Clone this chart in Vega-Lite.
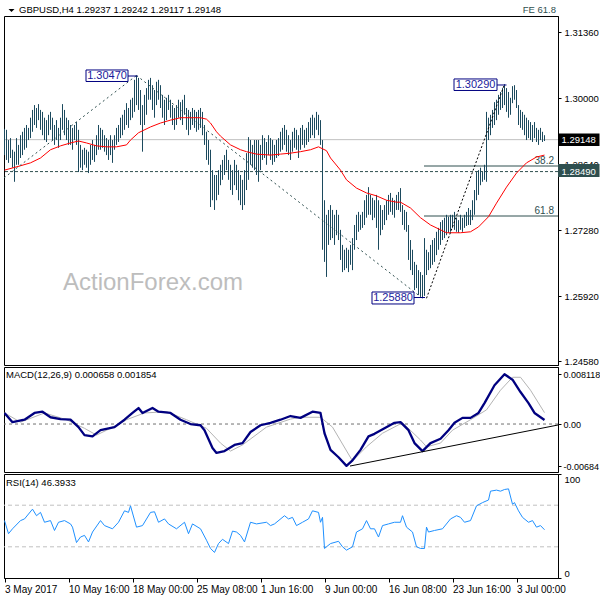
{
"$schema":"https://vega.github.io/schema/vega-lite/v6.json",
"padding":{"left":3,"top":0,"right":0,"bottom":0},
"autosize":{"type":"pad"},
"background":"white",
"spacing":2,
"bounds":"flush",
"data":{"values":[{"k":1}]},
"config":{"font":"Liberation Sans","view":{"stroke":"#000000","strokeWidth":1},
"axis":{"grid":false,"domainColor":"#000000","tickColor":"#000000","labelColor":"#000000","labelFont":"Liberation Sans","labelFontSize":9.5,"tickSize":3,"labelPadding":3}},
"datasets":{
"bars":[{"i":0,"h":1.2937,"l":1.2883},{"i":1,"h":1.2935,"l":1.2873},{"i":2,"h":1.2914,"l":1.2867},{"i":3,"h":1.2918,"l":1.2877},{"i":4,"h":1.2894,"l":1.2857},{"i":5,"h":1.289,"l":1.2828},{"i":6,"h":1.2918,"l":1.2863},{"i":7,"h":1.2904,"l":1.2863},{"i":8,"h":1.2924,"l":1.2877},{"i":9,"h":1.2931,"l":1.2883},
{"i":10,"h":1.2939,"l":1.2894},{"i":11,"h":1.2945,"l":1.2898},{"i":12,"h":1.2939,"l":1.2914},{"i":13,"h":1.296,"l":1.2918},{"i":14,"h":1.2976,"l":1.2931},{"i":15,"h":1.2986,"l":1.2945},{"i":16,"h":1.298,"l":1.2939},{"i":17,"h":1.2988,"l":1.2955},{"i":18,"h":1.2976,"l":1.2935},{"i":19,"h":1.2972,"l":1.2924},
{"i":20,"h":1.296,"l":1.2914},{"i":21,"h":1.2955,"l":1.291},{"i":22,"h":1.2966,"l":1.2924},{"i":23,"h":1.2972,"l":1.2935},{"i":24,"h":1.296,"l":1.2914},{"i":25,"h":1.2945,"l":1.2904},{"i":26,"h":1.2955,"l":1.2914},{"i":27,"h":1.2939,"l":1.2898},{"i":28,"h":1.296,"l":1.2914},{"i":29,"h":1.2988,"l":1.2935},
{"i":30,"h":1.2976,"l":1.2924},{"i":31,"h":1.296,"l":1.2914},{"i":32,"h":1.2955,"l":1.2904},{"i":33,"h":1.2945,"l":1.2904},{"i":34,"h":1.2939,"l":1.2894},{"i":35,"h":1.2945,"l":1.2914},{"i":36,"h":1.2951,"l":1.2904},{"i":37,"h":1.2935,"l":1.2848},{"i":38,"h":1.2904,"l":1.2857},{"i":39,"h":1.2894,"l":1.2852},
{"i":40,"h":1.2898,"l":1.2863},{"i":41,"h":1.2894,"l":1.2857},{"i":42,"h":1.289,"l":1.2846},{"i":43,"h":1.2904,"l":1.2863},{"i":44,"h":1.2914,"l":1.2873},{"i":45,"h":1.2904,"l":1.2869},{"i":46,"h":1.2924,"l":1.2883},{"i":47,"h":1.2945,"l":1.2894},{"i":48,"h":1.2939,"l":1.2894},{"i":49,"h":1.2935,"l":1.2898},
{"i":50,"h":1.2924,"l":1.289},{"i":51,"h":1.2918,"l":1.2883},{"i":52,"h":1.2914,"l":1.2873},{"i":53,"h":1.2924,"l":1.2883},{"i":54,"h":1.2914,"l":1.2867},{"i":55,"h":1.2924,"l":1.2894},{"i":56,"h":1.2939,"l":1.2904},{"i":57,"h":1.2945,"l":1.291},{"i":58,"h":1.296,"l":1.2918},{"i":59,"h":1.2966,"l":1.2924},
{"i":60,"h":1.2976,"l":1.2935},{"i":61,"h":1.299,"l":1.2945},{"i":62,"h":1.298,"l":1.2939},{"i":63,"h":1.2997,"l":1.2955},{"i":64,"h":1.3001,"l":1.296},{"i":65,"h":1.3038,"l":1.2972},{"i":66,"h":1.3047,"l":1.2986},{"i":67,"h":1.3042,"l":1.2976},{"i":68,"h":1.3017,"l":1.2945},{"i":69,"h":1.2986,"l":1.289},
{"i":70,"h":1.3007,"l":1.2945},{"i":71,"h":1.3021,"l":1.2966},{"i":72,"h":1.3038,"l":1.2997},{"i":73,"h":1.3042,"l":1.2997},{"i":74,"h":1.3027,"l":1.2976},{"i":75,"h":1.3017,"l":1.296},{"i":76,"h":1.3034,"l":1.2986},{"i":77,"h":1.3038,"l":1.2997},{"i":78,"h":1.3027,"l":1.298},{"i":79,"h":1.3007,"l":1.296},
{"i":80,"h":1.2997,"l":1.2945},{"i":81,"h":1.3001,"l":1.2955},{"i":82,"h":1.3007,"l":1.2976},{"i":83,"h":1.2997,"l":1.296},{"i":84,"h":1.2986,"l":1.2945},{"i":85,"h":1.298,"l":1.2935},{"i":86,"h":1.2986,"l":1.2945},{"i":87,"h":1.2997,"l":1.296},{"i":88,"h":1.2992,"l":1.2955},{"i":89,"h":1.2997,"l":1.2945},
{"i":90,"h":1.3007,"l":1.2966},{"i":91,"h":1.298,"l":1.2935},{"i":92,"h":1.2976,"l":1.2924},{"i":93,"h":1.2972,"l":1.2935},{"i":94,"h":1.298,"l":1.2945},{"i":95,"h":1.2976,"l":1.2939},{"i":96,"h":1.2972,"l":1.2931},{"i":97,"h":1.2976,"l":1.2935},{"i":98,"h":1.298,"l":1.2939},{"i":99,"h":1.2972,"l":1.2924},
{"i":100,"h":1.2945,"l":1.2904},{"i":101,"h":1.2931,"l":1.2873},{"i":102,"h":1.2914,"l":1.2863},{"i":103,"h":1.2894,"l":1.2776},{"i":104,"h":1.2852,"l":1.279},{"i":105,"h":1.2842,"l":1.277},{"i":106,"h":1.2842,"l":1.279},{"i":107,"h":1.2852,"l":1.2801},{"i":108,"h":1.2863,"l":1.2821},{"i":109,"h":1.2873,"l":1.2832},
{"i":110,"h":1.2883,"l":1.2842},{"i":111,"h":1.2894,"l":1.2852},{"i":112,"h":1.2873,"l":1.2832},{"i":113,"h":1.2863,"l":1.2811},{"i":114,"h":1.2852,"l":1.2801},{"i":115,"h":1.2873,"l":1.2821},{"i":116,"h":1.2863,"l":1.2811},{"i":117,"h":1.2852,"l":1.279},{"i":118,"h":1.2842,"l":1.278},{"i":119,"h":1.2832,"l":1.277},
{"i":120,"h":1.2852,"l":1.278},{"i":121,"h":1.2887,"l":1.2811},{"i":122,"h":1.292,"l":1.2832},{"i":123,"h":1.2914,"l":1.2863},{"i":124,"h":1.2904,"l":1.2857},{"i":125,"h":1.2914,"l":1.2852},{"i":126,"h":1.2914,"l":1.2842},{"i":127,"h":1.2914,"l":1.2828},{"i":128,"h":1.2904,"l":1.2852},{"i":129,"h":1.2924,"l":1.2873},
{"i":130,"h":1.2918,"l":1.2877},{"i":131,"h":1.291,"l":1.2863},{"i":132,"h":1.2924,"l":1.2883},{"i":133,"h":1.2918,"l":1.2873},{"i":134,"h":1.2914,"l":1.2863},{"i":135,"h":1.2904,"l":1.2869},{"i":136,"h":1.2914,"l":1.2877},{"i":137,"h":1.2918,"l":1.2881},{"i":138,"h":1.2931,"l":1.289},{"i":139,"h":1.2939,"l":1.2894},
{"i":140,"h":1.2945,"l":1.2904},{"i":141,"h":1.2935,"l":1.289},{"i":142,"h":1.2924,"l":1.2883},{"i":143,"h":1.2914,"l":1.2873},{"i":144,"h":1.2931,"l":1.289},{"i":145,"h":1.2939,"l":1.2898},{"i":146,"h":1.2935,"l":1.2894},{"i":147,"h":1.2924,"l":1.2877},{"i":148,"h":1.2939,"l":1.2894},{"i":149,"h":1.2945,"l":1.2904},
{"i":150,"h":1.2935,"l":1.2898},{"i":151,"h":1.2939,"l":1.2904},{"i":152,"h":1.2951,"l":1.291},{"i":153,"h":1.296,"l":1.2918},{"i":154,"h":1.2966,"l":1.2924},{"i":155,"h":1.296,"l":1.2918},{"i":156,"h":1.2972,"l":1.2935},{"i":157,"h":1.2966,"l":1.2924},{"i":158,"h":1.2955,"l":1.2904},{"i":159,"h":1.2914,"l":1.2688},
{"i":160,"h":1.279,"l":1.2663},{"i":161,"h":1.276,"l":1.2632},{"i":162,"h":1.277,"l":1.2698},{"i":163,"h":1.278,"l":1.2708},{"i":164,"h":1.277,"l":1.2712},{"i":165,"h":1.276,"l":1.2698},{"i":166,"h":1.277,"l":1.2718},{"i":167,"h":1.276,"l":1.2708},{"i":168,"h":1.2729,"l":1.2667},{"i":169,"h":1.2698,"l":1.2642},
{"i":170,"h":1.2688,"l":1.2646},{"i":171,"h":1.2692,"l":1.265},{"i":172,"h":1.2688,"l":1.2642},{"i":173,"h":1.2698,"l":1.2657},{"i":174,"h":1.2712,"l":1.2646},{"i":175,"h":1.2739,"l":1.2688},{"i":176,"h":1.276,"l":1.2708},{"i":177,"h":1.2766,"l":1.2725},{"i":178,"h":1.276,"l":1.2729},{"i":179,"h":1.2766,"l":1.2733},
{"i":180,"h":1.279,"l":1.2739},{"i":181,"h":1.2801,"l":1.2754},{"i":182,"h":1.2817,"l":1.276},{"i":183,"h":1.2801,"l":1.276},{"i":184,"h":1.2795,"l":1.2749},{"i":185,"h":1.279,"l":1.2754},{"i":186,"h":1.2801,"l":1.2733},{"i":187,"h":1.279,"l":1.2688},{"i":188,"h":1.278,"l":1.2718},{"i":189,"h":1.277,"l":1.2729},
{"i":190,"h":1.278,"l":1.2739},{"i":191,"h":1.279,"l":1.2749},{"i":192,"h":1.2801,"l":1.276},{"i":193,"h":1.2805,"l":1.2766},{"i":194,"h":1.2795,"l":1.276},{"i":195,"h":1.279,"l":1.2754},{"i":196,"h":1.2801,"l":1.277},{"i":197,"h":1.2807,"l":1.277},{"i":198,"h":1.2815,"l":1.2766},{"i":199,"h":1.278,"l":1.2739},
{"i":200,"h":1.277,"l":1.2729},{"i":201,"h":1.2766,"l":1.2725},{"i":202,"h":1.2739,"l":1.2667},{"i":203,"h":1.2708,"l":1.2646},{"i":204,"h":1.2688,"l":1.2636},{"i":205,"h":1.2663,"l":1.2605},{"i":206,"h":1.2657,"l":1.2609},{"i":207,"h":1.2646,"l":1.2595},{"i":208,"h":1.2642,"l":1.2591},{"i":209,"h":1.2636,"l":1.2588},
{"i":210,"h":1.2712,"l":1.2593},{"i":211,"h":1.2688,"l":1.2636},{"i":212,"h":1.2683,"l":1.2646},{"i":213,"h":1.2698,"l":1.265},{"i":214,"h":1.2708,"l":1.2657},{"i":215,"h":1.2712,"l":1.2663},{"i":216,"h":1.2725,"l":1.2677},{"i":217,"h":1.2733,"l":1.2688},{"i":218,"h":1.2745,"l":1.2698},{"i":219,"h":1.2749,"l":1.2708},
{"i":220,"h":1.2754,"l":1.2712},{"i":221,"h":1.276,"l":1.2718},{"i":222,"h":1.2756,"l":1.2723},{"i":223,"h":1.276,"l":1.2725},{"i":224,"h":1.276,"l":1.2733},{"i":225,"h":1.2766,"l":1.2729},{"i":226,"h":1.2754,"l":1.2725},{"i":227,"h":1.2749,"l":1.2723},{"i":228,"h":1.276,"l":1.2729},{"i":229,"h":1.2754,"l":1.2725},
{"i":230,"h":1.276,"l":1.2733},{"i":231,"h":1.2766,"l":1.2737},{"i":232,"h":1.2774,"l":1.2739},{"i":233,"h":1.277,"l":1.2739},{"i":234,"h":1.279,"l":1.2749},{"i":235,"h":1.2811,"l":1.276},{"i":236,"h":1.2848,"l":1.279},{"i":237,"h":1.2852,"l":1.2801},{"i":238,"h":1.2857,"l":1.2821},{"i":239,"h":1.2848,"l":1.2828},
{"i":240,"h":1.2863,"l":1.2832},{"i":241,"h":1.2972,"l":1.2828},{"i":242,"h":1.296,"l":1.2914},{"i":243,"h":1.2966,"l":1.2924},{"i":244,"h":1.2976,"l":1.2939},{"i":245,"h":1.2992,"l":1.2945},{"i":246,"h":1.2997,"l":1.2955},{"i":247,"h":1.3007,"l":1.2966},{"i":248,"h":1.3013,"l":1.2976},{"i":249,"h":1.3021,"l":1.298},
{"i":250,"h":1.3029,"l":1.2986},{"i":251,"h":1.3021,"l":1.2972},{"i":252,"h":1.3013,"l":1.296},{"i":253,"h":1.3001,"l":1.2966},{"i":254,"h":1.3025,"l":1.299},{"i":255,"h":1.3027,"l":1.2997},{"i":256,"h":1.3017,"l":1.298},{"i":257,"h":1.2986,"l":1.2945},{"i":258,"h":1.2976,"l":1.2939},{"i":259,"h":1.2972,"l":1.2935},
{"i":260,"h":1.2966,"l":1.2924},{"i":261,"h":1.296,"l":1.2914},{"i":262,"h":1.2955,"l":1.2918},{"i":263,"h":1.2951,"l":1.2914},{"i":264,"h":1.2945,"l":1.291},{"i":265,"h":1.2951,"l":1.2918},{"i":266,"h":1.2939,"l":1.291},{"i":267,"h":1.2935,"l":1.2904},{"i":268,"h":1.2939,"l":1.2914},{"i":269,"h":1.2931,"l":1.291},
{"i":270,"h":1.2924,"l":1.2912}],
"ma":[{"i":0,"v":1.2852},{"i":8,"v":1.2861},{"i":13,"v":1.2867},{"i":18,"v":1.2877},{"i":23,"v":1.2894},{"i":28,"v":1.2902},{"i":33,"v":1.2908},{"i":37,"v":1.2912},{"i":41,"v":1.2908},{"i":46,"v":1.2902},{"i":51,"v":1.29},{"i":56,"v":1.29},{"i":61,"v":1.2904},{"i":63,"v":1.2914},{"i":67,"v":1.2929},{"i":73,"v":1.2941},{"i":78,"v":1.2949},{"i":83,"v":1.2955},{"i":88,"v":1.296},{"i":93,"v":1.296},{"i":98,"v":1.296},{"i":101,"v":1.2957},{"i":103,"v":1.2949},{"i":106,"v":1.2931},{"i":108,"v":1.2922},{"i":113,"v":1.2904},{"i":118,"v":1.2894},{"i":121,"v":1.289},{"i":126,"v":1.2885},{"i":133,"v":1.2883},{"i":138,"v":1.2885},{"i":143,"v":1.2887},{"i":148,"v":1.289},{"i":153,"v":1.2894},{"i":157,"v":1.29},{"i":161,"v":1.2892},{"i":163,"v":1.2877},{"i":168,"v":1.2852},{"i":171,"v":1.2832},{"i":176,"v":1.2815},{"i":181,"v":1.2805},{"i":186,"v":1.2799},{"i":191,"v":1.279},{"i":196,"v":1.2786},{"i":198,"v":1.2786},{"i":203,"v":1.2774},{"i":208,"v":1.2754},{"i":213,"v":1.2739},{"i":221,"v":1.2723},{"i":228,"v":1.2723},{"i":233,"v":1.2725},{"i":237,"v":1.2735},{"i":242,"v":1.2756},{"i":246,"v":1.2784},{"i":251,"v":1.2817},{"i":256,"v":1.2846},{"i":261,"v":1.2867},{"i":266,"v":1.2879},{"i":270,"v":1.2883}],
"macd":[{"i":0,"m":0.0018},{"i":4,"m":0.0003},{"i":10,"m":0.0007},{"i":15,"m":0.0018},{"i":19,"m":0.002},{"i":23,"m":0.0011},{"i":28,"m":0.0008},{"i":33,"m":0.0007},{"i":37,"m":-0.0005},{"i":40,"m":-0.0018},{"i":44,"m":-0.002},{"i":48,"m":-0.001},{"i":55,"m":-0.0005},{"i":60,"m":0.0007},{"i":64,"m":0.0018},{"i":67,"m":0.0026},{"i":69,"m":0.0018},{"i":74,"m":0.0026},{"i":77,"m":0.002},{"i":83,"m":0.0018},{"i":88,"m":0.0007},{"i":93,"m":0},{"i":98,"m":-0.0002},{"i":100,"m":-0.001},{"i":104,"m":-0.0039},{"i":106,"m":-0.0047},{"i":110,"m":-0.0044},{"i":115,"m":-0.0034},{"i":119,"m":-0.0031},{"i":123,"m":-0.0013},{"i":128,"m":-0.0002},{"i":133,"m":0.0002},{"i":138,"m":0.0007},{"i":143,"m":0.0013},{"i":148,"m":0.001},{"i":154,"m":0.002},{"i":158,"m":0.0018},{"i":160,"m":-0.0015},{"i":163,"m":-0.0042},{"i":167,"m":-0.0054},{"i":171,"m":-0.0068},{"i":174,"m":-0.0059},{"i":178,"m":-0.0042},{"i":182,"m":-0.002},{"i":185,"m":-0.0016},{"i":190,"m":-0.0007},{"i":195,"m":0.0002},{"i":198,"m":0.0003},{"i":202,"m":-0.001},{"i":205,"m":-0.0031},{"i":209,"m":-0.0044},{"i":213,"m":-0.0031},{"i":218,"m":-0.0024},{"i":222,"m":-0.001},{"i":225,"m":0.0002},{"i":229,"m":0.001},{"i":233,"m":0.001},{"i":237,"m":0.0018},{"i":240,"m":0.0034},{"i":245,"m":0.0063},{"i":250,"m":0.0081},{"i":254,"m":0.0072},{"i":258,"m":0.0052},{"i":262,"m":0.0034},{"i":265,"m":0.0018},{"i":270,"m":0.00066}],
"sig":[{"i":0,"s":0.0018},{"i":8,"s":0.0003},{"i":20,"s":0.0018},{"i":31,"s":0.0007},{"i":40,"s":-0.0007},{"i":46,"s":-0.0018},{"i":53,"s":-0.0007},{"i":61,"s":0.0007},{"i":70,"s":0.0018},{"i":81,"s":0.002},{"i":91,"s":0.0007},{"i":101,"s":-0.0007},{"i":108,"s":-0.0031},{"i":113,"s":-0.0044},{"i":119,"s":-0.0034},{"i":131,"s":-0.0005},{"i":143,"s":0.0008},{"i":148,"s":0.0011},{"i":158,"s":0.0011},{"i":164,"s":-0.0005},{"i":174,"s":-0.006},{"i":181,"s":-0.0037},{"i":189,"s":-0.0015},{"i":199,"s":0.0002},{"i":208,"s":-0.0026},{"i":211,"s":-0.0037},{"i":218,"s":-0.0031},{"i":224,"s":-0.001},{"i":233,"s":0.0007},{"i":241,"s":0.0023},{"i":248,"s":0.0055},{"i":254,"s":0.0076},{"i":258,"s":0.0076},{"i":263,"s":0.0055},{"i":270,"s":0.00185}],
"rsi":[{"i":0,"r":55.2},{"i":2,"r":42.6},{"i":4,"r":47.3},{"i":8,"r":55.2},{"i":10,"r":56.8},{"i":14,"r":66.2},{"i":16,"r":59.9},{"i":18,"r":63.1},{"i":20,"r":53.6},{"i":23,"r":55.2},{"i":25,"r":45.7},{"i":27,"r":53.6},{"i":30,"r":55.2},{"i":33,"r":52},{"i":34,"r":48.9},{"i":36,"r":34.1},{"i":38,"r":39.4},{"i":40,"r":41},{"i":42,"r":34.7},{"i":44,"r":44.2},{"i":48,"r":55.2},{"i":50,"r":50.4},{"i":54,"r":47.3},{"i":57,"r":53.6},{"i":60,"r":64.6},{"i":62,"r":63.1},{"i":63,"r":69.4},{"i":66,"r":48.9},{"i":69,"r":50.4},{"i":73,"r":63.1},{"i":75,"r":63.7},{"i":77,"r":53.6},{"i":80,"r":56.8},{"i":82,"r":52},{"i":86,"r":47.3},{"i":90,"r":53.6},{"i":92,"r":42.6},{"i":94,"r":52},{"i":98,"r":47.3},{"i":101,"r":36.3},{"i":103,"r":28.4},{"i":105,"r":24.6},{"i":107,"r":33.1},{"i":109,"r":37.2},{"i":112,"r":33.1},{"i":114,"r":45.1},{"i":116,"r":44.2},{"i":118,"r":41},{"i":120,"r":34.7},{"i":123,"r":53.6},{"i":126,"r":52},{"i":131,"r":53.6},{"i":133,"r":50.4},{"i":135,"r":52},{"i":140,"r":59.9},{"i":142,"r":56.8},{"i":144,"r":58.3},{"i":146,"r":50.4},{"i":149,"r":53.6},{"i":152,"r":56.8},{"i":154,"r":64.6},{"i":157,"r":63.1},{"i":158,"r":53.6},{"i":159,"r":58.3},{"i":160,"r":28.4},{"i":161,"r":30},{"i":163,"r":33.1},{"i":167,"r":35.3},{"i":169,"r":30},{"i":171,"r":26.8},{"i":174,"r":30},{"i":176,"r":44.2},{"i":179,"r":47.3},{"i":181,"r":55.2},{"i":183,"r":47.3},{"i":185,"r":47.3},{"i":187,"r":39.4},{"i":189,"r":50.4},{"i":192,"r":52},{"i":195,"r":53.6},{"i":198,"r":53.6},{"i":199,"r":59.9},{"i":201,"r":48.9},{"i":204,"r":44.2},{"i":206,"r":30},{"i":208,"r":28.4},{"i":210,"r":28.4},{"i":211,"r":48.9},{"i":212,"r":44.2},{"i":215,"r":45.7},{"i":219,"r":47.3},{"i":223,"r":56.8},{"i":226,"r":59.9},{"i":228,"r":58.3},{"i":230,"r":53.6},{"i":233,"r":55.2},{"i":236,"r":69.4},{"i":239,"r":72.5},{"i":242,"r":75},{"i":243,"r":83.5},{"i":246,"r":84.5},{"i":248,"r":83.5},{"i":250,"r":85.1},{"i":252,"r":85.7},{"i":254,"r":70.9},{"i":255,"r":72.5},{"i":257,"r":64.6},{"i":259,"r":58.3},{"i":262,"r":53.6},{"i":264,"r":55.2},{"i":266,"r":48.9},{"i":268,"r":50.4},{"i":270,"r":46.4}]
},
"vconcat":[
{"width":554,"height":14,"view":{"stroke":null},
"layer":[
{"mark":{"type":"point","shape":"M-1,-0.5L1,-0.5L0,0.5Z","size":36,"filled":true,"color":"#000000","opacity":1,"yOffset":3.5},"encoding":{"x":{"datum":3.5,"type":"quantitative","scale":{"domain":[-0.25,276.75],"nice":false,"zero":false},"axis":null}}},
{"mark":{"type":"text","align":"left","baseline":"middle","dy":3,"fontSize":9.5,"color":"#000000"},"encoding":{"x":{"datum":7.25,"type":"quantitative","scale":{"domain":[-0.25,276.75],"nice":false,"zero":false},"axis":null},"text":{"value":"GBPUSD,H4  1.29237 1.29242 1.29117 1.29148"}}},
{"mark":{"type":"text","align":"right","baseline":"middle","dy":3,"fontSize":9.5,"color":"#2F4F4F"},"encoding":{"x":{"datum":275.75,"type":"quantitative","scale":{"domain":[-0.25,276.75],"nice":false,"zero":false},"axis":null},"text":{"value":"FE 61.8"}}}
]},
{"width":554,"height":349,
"layer":[
{"mark":{"type":"rule","color":"#C0C0C0","strokeWidth":1},"encoding":{"y":{"datum":1.29148,"type":"quantitative","scale":{"domain":[1.24506,1.31695],"nice":false,"zero":false},"axis":{"orient":"right","title":null,"labelOverlap":false,"values":[1.2458,1.2526,1.2592,1.266,1.2728,1.2796,1.2864,1.2932,1.3,1.3068,1.3136],"format":".5f"}}}},
{"mark":{"type":"rule","color":"#2F4F4F","strokeWidth":1,"strokeDash":[3,2]},"encoding":{"y":{"datum":1.2849,"type":"quantitative"}}},
{"mark":{"type":"rule","color":"#2F4F4F","strokeWidth":1},"encoding":{"x":{"datum":209.75,"type":"quantitative","scale":{"domain":[-0.25,276.75],"nice":false,"zero":false},"axis":null},"x2":{"datum":276.75},"y":{"datum":1.28605,"type":"quantitative"}}},
{"mark":{"type":"rule","color":"#2F4F4F","strokeWidth":1},"encoding":{"x":{"datum":209.75,"type":"quantitative","axis":null},"x2":{"datum":276.75},"y":{"datum":1.27575,"type":"quantitative"}}},
{"mark":{"type":"text","align":"right","baseline":"middle","fontSize":10,"color":"#2F4F4F"},"encoding":{"x":{"datum":274.75,"type":"quantitative","axis":null},"y":{"datum":1.2871,"type":"quantitative"},"text":{"value":"38.2"}}},
{"mark":{"type":"text","align":"right","baseline":"middle","fontSize":10,"color":"#2F4F4F"},"encoding":{"x":{"datum":274.75,"type":"quantitative","axis":null},"y":{"datum":1.2768,"type":"quantitative"},"text":{"value":"61.8"}}},
{"mark":{"type":"text","align":"center","baseline":"middle","fontSize":24,"color":"#BDBDBD"},"encoding":{"x":{"datum":74.25,"type":"quantitative","axis":null},"y":{"datum":1.26195,"type":"quantitative"},"text":{"value":"ActionForex.com"}}},
{"data":{"name":"bars"},"mark":{"type":"rule","color":"#1C4A5E","strokeWidth":1,"clip":true},"encoding":{"x":{"field":"i","type":"quantitative","axis":null},"y":{"field":"h","type":"quantitative"},"y2":{"field":"l"}}},
{"data":{"name":"ma"},"mark":{"type":"line","color":"#FF0000","strokeWidth":1,"clip":true,"strokeJoin":"round"},"encoding":{"x":{"field":"i","type":"quantitative","axis":null},"y":{"field":"v","type":"quantitative"}}},
{"mark":{"type":"rule","color":"#2F4F4F","strokeWidth":1,"strokeDash":[2,3],"clip":true},"encoding":{"x":{"datum":-0.25,"type":"quantitative","axis":null},"x2":{"datum":66},"y":{"datum":1.2836,"type":"quantitative"},"y2":{"datum":1.3047}}},
{"mark":{"type":"rule","color":"#2F4F4F","strokeWidth":1,"strokeDash":[2,3],"clip":true},"encoding":{"x":{"datum":66,"type":"quantitative","axis":null},"x2":{"datum":209},"y":{"datum":1.3047,"type":"quantitative"},"y2":{"datum":1.2588}}},
{"mark":{"type":"rule","color":"#000000","strokeWidth":1,"strokeDash":[2,2],"clip":true},"encoding":{"x":{"datum":211,"type":"quantitative","axis":null},"x2":{"datum":250},"y":{"datum":1.2588,"type":"quantitative"},"y2":{"datum":1.3029}}},
{"mark":{"type":"rule","color":"#000080","strokeWidth":1},"encoding":{"x":{"datum":61.75,"type":"quantitative","axis":null},"x2":{"datum":66.5},"y":{"datum":1.30459,"type":"quantitative"}}},
{"mark":{"type":"rect","fill":"#FFFFFF","stroke":"#000080","strokeWidth":1},"encoding":{"x":{"datum":40.75,"type":"quantitative","axis":null},"x2":{"datum":61.75},"y":{"datum":1.30583,"type":"quantitative"},"y2":{"datum":1.30346}}},
{"mark":{"type":"text","align":"center","baseline":"middle","fontSize":11,"color":"#1A1A9C"},"encoding":{"x":{"datum":51.25,"type":"quantitative","axis":null},"y":{"datum":1.30465,"type":"quantitative"},"text":{"value":"1.30470"}}},
{"mark":{"type":"rule","color":"#000080","strokeWidth":1},"encoding":{"x":{"datum":246.25,"type":"quantitative","axis":null},"x2":{"datum":251},"y":{"datum":1.30274,"type":"quantitative"}}},
{"mark":{"type":"rect","fill":"#FFFFFF","stroke":"#000080","strokeWidth":1},"encoding":{"x":{"datum":224.75,"type":"quantitative","axis":null},"x2":{"datum":246.25},"y":{"datum":1.30398,"type":"quantitative"},"y2":{"datum":1.30161}}},
{"mark":{"type":"text","align":"center","baseline":"middle","fontSize":11,"color":"#1A1A9C"},"encoding":{"x":{"datum":235.5,"type":"quantitative","axis":null},"y":{"datum":1.3028,"type":"quantitative"},"text":{"value":"1.30290"}}},
{"mark":{"type":"rule","color":"#000080","strokeWidth":1},"encoding":{"x":{"datum":204.75,"type":"quantitative","axis":null},"x2":{"datum":210.25},"y":{"datum":1.25896,"type":"quantitative"}}},
{"mark":{"type":"rect","fill":"#FFFFFF","stroke":"#000080","strokeWidth":1},"encoding":{"x":{"datum":183.75,"type":"quantitative","axis":null},"x2":{"datum":204.75},"y":{"datum":1.2601,"type":"quantitative"},"y2":{"datum":1.25763}}},
{"mark":{"type":"text","align":"center","baseline":"middle","fontSize":11,"color":"#1A1A9C"},"encoding":{"x":{"datum":194.25,"type":"quantitative","axis":null},"y":{"datum":1.25886,"type":"quantitative"},"text":{"value":"1.25880"}}},
{"mark":{"type":"rect","fill":"#000000","clip":false},"encoding":{"x":{"datum":276.75,"type":"quantitative","axis":null},"x2":{"datum":297.5},"y":{"datum":1.29275,"type":"quantitative"},"y2":{"datum":1.29017}}},
{"mark":{"type":"text","align":"left","baseline":"middle","fontSize":9.5,"color":"#FFFFFF","clip":false},"encoding":{"x":{"datum":278.5,"type":"quantitative","axis":null},"y":{"datum":1.29148,"type":"quantitative"},"text":{"value":"1.29148"}}},
{"mark":{"type":"rect","fill":"#2F4F4F","clip":false},"encoding":{"x":{"datum":276.75,"type":"quantitative","axis":null},"x2":{"datum":297.5},"y":{"datum":1.28647,"type":"quantitative"},"y2":{"datum":1.28379}}},
{"mark":{"type":"text","align":"left","baseline":"middle","fontSize":9.5,"color":"#FFFFFF","clip":false},"encoding":{"x":{"datum":278.5,"type":"quantitative","axis":null},"y":{"datum":1.2849,"type":"quantitative"},"text":{"value":"1.28490"}}}
]},
{"width":554,"height":105,
"layer":[
{"mark":{"type":"rule","color":"#707070","strokeWidth":1,"strokeDash":[3,3]},"encoding":{"y":{"datum":0,"type":"quantitative","scale":{"domain":[-0.0078,0.00927],"nice":false,"zero":false},"axis":{"orient":"right","title":null,"labelOverlap":false,"values":[0.008118,0,-0.006844],"labelFontSize":9,"labelPadding":2,"labelExpr":"datum.value > 0.008 ? '0.008118' : (datum.value < -0.006 ? '-0.00684' : '0.00')"}}}},
{"data":{"name":"sig"},"mark":{"type":"line","color":"#B4B4B4","strokeWidth":1,"clip":true,"strokeJoin":"round"},"encoding":{"x":{"field":"i","type":"quantitative","scale":{"domain":[-0.25,276.75],"nice":false,"zero":false},"axis":null},"y":{"field":"s","type":"quantitative"}}},
{"data":{"name":"macd"},"mark":{"type":"line","color":"#000080","strokeWidth":2.3,"clip":true,"strokeJoin":"round"},"encoding":{"x":{"field":"i","type":"quantitative","axis":null},"y":{"field":"m","type":"quantitative"}}},
{"mark":{"type":"rule","color":"#000000","strokeWidth":1},"encoding":{"x":{"datum":172.75,"type":"quantitative","axis":null},"x2":{"datum":276.75},"y":{"datum":-0.00683,"type":"quantitative"},"y2":{"datum":-0.00016}}},
{"mark":{"type":"text","align":"left","baseline":"middle","fontSize":9.5,"color":"#000000"},"encoding":{"x":{"datum":0.75,"type":"quantitative","axis":null},"y":{"datum":0.00797,"type":"quantitative"},"text":{"value":"MACD(12,26,9) 0.000658 0.001854"}}}
]},
{"width":554,"height":104,
"layer":[
{"mark":{"type":"rule","color":"#C0C0C0","strokeWidth":1,"strokeDash":[4,3]},"encoding":{"y":{"datum":70,"type":"quantitative","scale":{"domain":[0,100],"nice":false,"zero":false},"axis":{"orient":"right","title":null,"labelOverlap":false,"values":[100,70,30,0],"labelBaseline":{"condition":[{"test":"datum.value == 100","value":"top"},{"test":"datum.value == 0","value":"bottom"}],"value":"middle"}}}}},
{"mark":{"type":"rule","color":"#C0C0C0","strokeWidth":1,"strokeDash":[4,3]},"encoding":{"y":{"datum":30,"type":"quantitative"}}},
{"data":{"name":"rsi"},"mark":{"type":"line","color":"#1E90FF","strokeWidth":1,"clip":true,"strokeJoin":"round"},"encoding":{"x":{"field":"i","type":"quantitative","scale":{"domain":[-0.25,276.75],"nice":false,"zero":false},"axis":{"orient":"bottom","title":null,"labelOverlap":false,"values":[0,32,64,96,128,160,192,224,256],"labelAlign":"left","labelFontSize":10,"tickSize":4,"labelPadding":2,"labelExpr":"['3 May 2017','10 May 16:00','18 May 00:00','25 May 08:00','1 Jun 16:00','9 Jun 00:00','16 Jun 08:00','23 Jun 16:00','3 Jul 00:00'][round(datum.value/32)]"}},"y":{"field":"r","type":"quantitative"}}},
{"mark":{"type":"text","align":"left","baseline":"middle","fontSize":9.5,"color":"#000000"},"encoding":{"x":{"datum":0.75,"type":"quantitative"},"y":{"datum":91.5,"type":"quantitative"},"text":{"value":"RSI(14) 46.3933"}}}
]}
]
}
